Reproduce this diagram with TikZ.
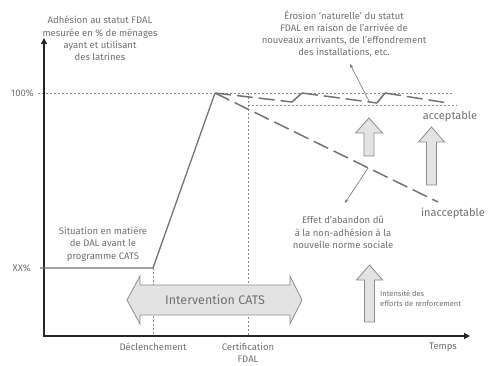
\documentclass[tikz,border=0pt]{standalone}
\usepackage{fontspec}
\setmainfont{Fira Sans}
\usepackage{tikz}
\usetikzlibrary{arrows.meta}

\definecolor{txtgray}{HTML}{707070}
\definecolor{linegray}{HTML}{737373}
\definecolor{dotgray}{HTML}{8A8A8A}
\definecolor{boxfill}{HTML}{E3E3E3}
\definecolor{boxline}{HTML}{8C8C8C}

\tikzset{
  lbl/.style={text=txtgray, font=\fontsize{9.5}{12.3}\selectfont, align=center, inner sep=0pt},
  biglbl/.style={text=txtgray, font=\fontsize{11}{13}\selectfont, inner sep=0pt},
  axis/.style={line width=1.4pt, draw=black!85},
  guide/.style={draw=dotgray, line width=0.7pt, dash pattern=on 2pt off 2pt},
  trend/.style={draw=linegray, line width=1.5pt, dash pattern=on 16pt off 6pt},
  leader/.style={draw=linegray, line width=0.6pt, -{Stealth[length=4pt, width=3pt]}},
  blockarrow/.style={fill=boxfill, draw=boxline, line width=0.8pt, line join=miter}
}

\begin{document}
\begin{tikzpicture}[x=1pt, y=-1pt]
  \useasboundingbox (0,0) rectangle (493,365);

  \coordinate (O) at (44,336);
  \coordinate (ytop) at (44,38);
  \coordinate (xend) at (470,336);
  \coordinate (before) at (40,268);
  \coordinate (trigger) at (153,268);
  \coordinate (peak) at (215,93);
  \coordinate (certif) at (248,93);
  \coordinate (low) at (438,202);

  \draw[guide] (38,93) -- (453,93);
  \draw[guide] (248,105) -- (457,105);
  \draw[guide] (trigger) -- (153,336);
  \draw[guide] (certif) -- (248,336);

  \draw[axis, {Triangle[length=6pt, width=6pt]}-{Triangle[length=6pt, width=6pt]}] (ytop) -- (O) -- (xend);

  \draw[linegray, line width=1.3pt] (before) -- (trigger) -- (peak);

  \draw[trend] (peak) -- (292,102);
  \draw[trend] (292,102) -- (302,93);
  \draw[trend] (302,93) -- (377,103);
  \draw[trend] (377,103) -- (385,93);
  \draw[trend] (385,93) -- (448,103);
  \draw[trend] (peak) -- (low);

  \filldraw[blockarrow] (355.5,133) -- (369,118) -- (382.5,133) -- (374,133) -- (374,156) -- (364,156) -- (364,133) -- cycle;
  \filldraw[blockarrow] (418.5,142) -- (431.5,127) -- (444.5,142) -- (436.5,142) -- (436.5,185) -- (426.5,185) -- (426.5,142) -- cycle;
  \filldraw[blockarrow] (356.5,280) -- (369.5,265) -- (382.5,280) -- (374.5,280) -- (374.5,322) -- (364.5,322) -- (364.5,280) -- cycle;

  \filldraw[blockarrow] (127,300) -- (140,276) -- (140,285) -- (290,285) -- (290,276) -- (302,300) -- (290,324) -- (290,315) -- (140,315) -- (140,324) -- cycle;
  \node[text=txtgray, font=\fontsize{12.5}{14}\selectfont, inner sep=0pt] (cats) at (215,300) {Intervention CATS};

  \node[lbl] (ylbl) at (100,38.5) {Adhésion au statut FDAL\\mesurée en \% de ménages\\ayant et utilisant\\des latrines};
  \node[lbl] (erosion) at (344,34) {Érosion ‘naturelle’ du statut\\FDAL en raison de l’arrivée de\\nouveaux arrivants, de l’effondrement\\des installations, etc.};
  \node[lbl] (situation) at (103,244) {Situation en matière\\de DAL avant le\\programme CATS};
  \node[lbl] (abandon) at (343,232.5) {Effet d’abandon dû\\à la non-adhésion à la\\nouvelle norme sociale};
  \node[lbl, align=left, anchor=west, font=\fontsize{7.5}{9.5}\selectfont] (effort) at (380,298.5) {Intensité des\\efforts de renforcement};
  \node[biglbl] (ok) at (450,117) {acceptable};
  \node[biglbl] (notok) at (453,213) {inacceptable};
  \node[lbl, anchor=east] (full) at (34,93) {100\%};
  \node[lbl, anchor=east] (xx) at (31,268) {XX\%};
  \node[lbl] (declen) at (153,347) {Déclenchement};
  \node[lbl] (certlbl) at (248,353) {Certification\\FDAL};
  \node[lbl] (temps) at (443,347) {Temps};

  \coordinate (erofoot) at (369,101);
  \coordinate (erotip) at (350,64);
  \coordinate (abfoot) at (368,168);
  \coordinate (abtip) at (345,203);
  \draw[leader] (erofoot) -- (erotip);
  \draw[leader] (abfoot) -- (abtip);
\end{tikzpicture}
\end{document}
